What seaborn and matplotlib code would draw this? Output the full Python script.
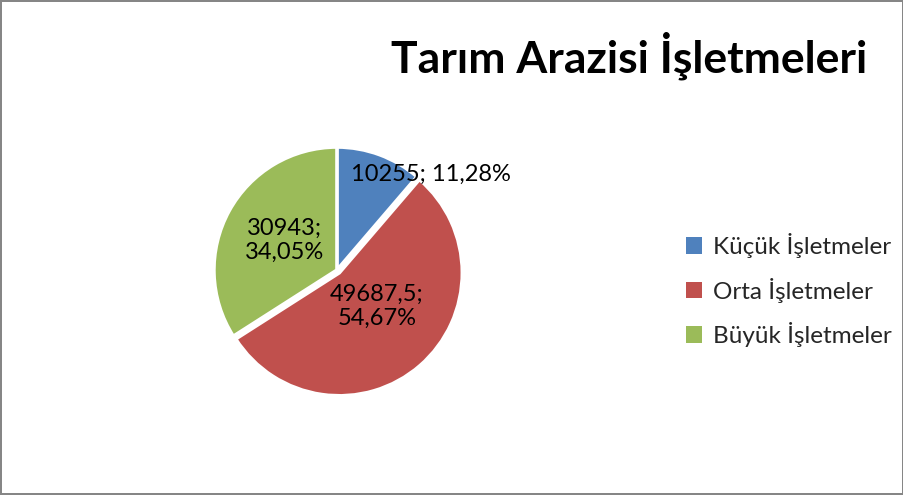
import numpy as np
import matplotlib
matplotlib.use("Agg")
import matplotlib.pyplot as plt
from matplotlib.patches import Patch
import seaborn as sns

categories = ["Küçük İşletmeler", "Orta İşletmeler", "Büyük İşletmeler"]
values = [10255, 49687.5, 30943]
colors = ["#4F81BD", "#C0504D", "#9BBB59"]

sns.set_theme(style="white")
plt.rcParams["font.family"] = ["Lato", "DejaVu Sans"]


def fmt_num(v):
    s = f"{v:g}"
    return s.replace(".", ",")


total = sum(values)
pcts = [v / total * 100 for v in values]
label_texts = [
    f"{fmt_num(values[0])}; {pcts[0]:.2f}%".replace(".", ","),
    f"{fmt_num(values[1])};\n{pcts[1]:.2f}%".replace(".", ","),
    f"{fmt_num(values[2])};\n{pcts[2]:.2f}%".replace(".", ","),
]
# label placement (radius fraction, angle shift in degrees) per slice
label_dist = [1.09, 0.41, 0.49]
label_shift = [-24, 7, -1]

fig = plt.figure(figsize=(9.04, 4.95), dpi=100)
fig.patch.set_facecolor("white")
fig.patch.set_edgecolor("#868686")
fig.patch.set_linewidth(1.5)

ax = fig.add_axes([0.2231, 0.1812, 0.2992, 0.5466])
wedges, _ = ax.pie(
    values,
    colors=colors,
    startangle=90,
    counterclock=False,
    explode=[0.0, 0.03, 0.0],
    wedgeprops=dict(edgecolor="white", linewidth=2.5),
)
ax.set_xlim(-1.1, 1.1)
ax.set_ylim(-1.1, 1.1)
ax.set_aspect("equal")

for w, txt, d, sh in zip(wedges, label_texts, label_dist, label_shift):
    ang = np.deg2rad((w.theta1 + w.theta2) / 2 + sh)
    cx, cy = w.center
    ax.text(cx + d * np.cos(ang), cy + d * np.sin(ang), txt,
            ha="center", va="center", fontsize=17, color="black",
            linespacing=1.2)

fig.text(0.696, 0.888, "Tarım Arazisi İşletmeleri", ha="center", va="center",
         fontsize=32, fontweight="bold", color="black")

handles = [Patch(facecolor=c, edgecolor="none") for c in colors]
fig.legend(handles, categories, loc="center left", bbox_to_anchor=(0.7345, 0.414),
           frameon=False, fontsize=17.5, handlelength=0.65, handleheight=0.65,
           handletextpad=0.45, labelspacing=0.8)

fig.savefig("out.png", dpi=100)
